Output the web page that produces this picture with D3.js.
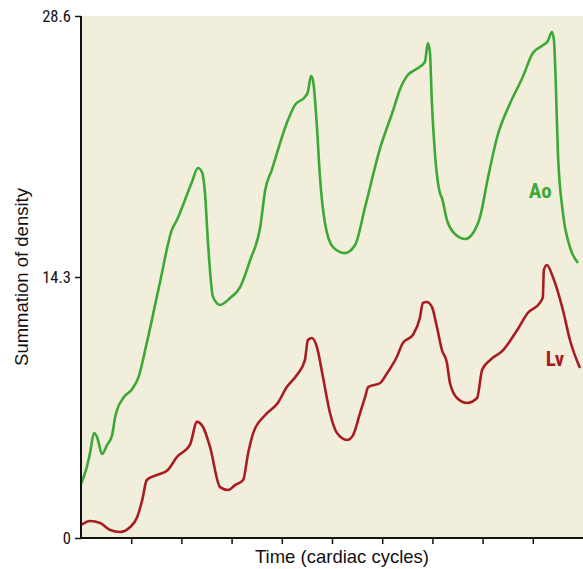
<!DOCTYPE html>
<html><head><meta charset="utf-8">
<script src="https://cdn.jsdelivr.net/npm/d3@7"></script>
<style>
body{margin:0;background:#fff;}
svg{display:block;}
</style></head>
<body>
<svg id="chart" width="583" height="569"></svg>
<script>
// Time in cardiac-cycle units (0..10), values = summation of density
const aoTime = [0,0.10,0.18,0.26,0.32,0.42,0.52,0.62,0.68,0.84,1.02,1.14,1.31,1.57,1.81,1.91,2.21,2.33,2.41,2.47,2.53,2.63,2.77,2.97,3.17,3.37,3.57,3.67,3.80,4.10,4.26,4.46,4.52,4.58,4.62,4.70,4.76,4.86,5.02,5.26,5.46,5.66,5.96,6.22,6.35,6.51,6.65,6.85,6.91,6.95,6.99,7.05,7.15,7.19,7.29,7.41,7.65,7.81,7.95,8.11,8.29,8.55,8.80,9.00,9.18,9.30,9.38,9.42,9.46,9.50,9.60,9.74,9.90];
const aoValues = [2.96,3.73,4.66,5.75,5.53,4.60,5.10,5.64,6.63,7.67,8.16,8.77,10.68,13.97,16.88,17.42,19.51,20.27,20.05,18.90,16.16,13.20,12.77,13.15,13.75,15.23,17.04,19.07,20.16,22.74,23.72,24.16,24.44,25.31,25.09,22.52,19.78,17.26,15.94,15.61,16.05,18.14,21.37,23.45,24.55,25.37,25.64,26.08,27.12,26.63,23.83,21.09,18.90,18.63,17.42,16.77,16.38,16.71,17.59,19.78,21.97,23.83,25.26,26.57,26.96,27.23,27.72,27.29,24.71,21.09,17.81,15.94,15.07];
const lvTime = [0,0.18,0.38,0.58,0.78,0.98,1.12,1.22,1.31,1.51,1.73,1.91,2.17,2.31,2.43,2.57,2.77,2.93,3.07,3.23,3.33,3.43,3.67,3.92,4.10,4.30,4.46,4.52,4.60,4.70,4.82,4.96,5.10,5.30,5.42,5.56,5.66,5.72,5.96,6.10,6.29,6.41,6.61,6.75,6.81,6.89,6.99,7.09,7.19,7.29,7.35,7.49,7.69,7.89,7.99,8.15,8.41,8.69,8.90,9.14,9.20,9.22,9.28,9.40,9.60,9.74,9.94];
const lvValues = [0.71,0.93,0.82,0.44,0.33,0.60,1.15,2.08,3.18,3.45,3.73,4.44,5.10,6.36,6.08,4.99,2.79,2.63,2.90,3.18,4.66,5.75,6.74,7.40,8.27,8.93,9.75,10.85,10.96,10.46,8.82,6.85,5.75,5.37,5.64,6.85,7.73,8.27,8.49,9.04,9.92,10.68,11.12,12.05,12.88,12.93,12.66,11.56,10.30,9.59,8.49,7.67,7.40,7.67,9.20,9.75,10.30,11.40,12.33,12.88,13.20,14.68,14.96,14.30,12.49,10.85,9.31];
const yTickValues = [0, 14.3, 28.6];
const xTickValues = [1,2,3,4,5,6,7,8,9];
const seriesLabels = ["Ao","Lv"];

const margin = {left:81, top:16, right:0, bottom:31};
const W = 583, H = 569;
const iw = W - margin.left - margin.right, ih = H - margin.top - margin.bottom;
const svg = d3.select("#chart");
const g = svg.append("g").attr("transform",`translate(${margin.left},${margin.top})`);
const x = d3.scaleLinear().domain([0,10]).range([0,iw]);
const y = d3.scaleLinear().domain([0,28.6]).range([ih,0]);

g.append("rect").attr("width",iw).attr("height",ih).attr("fill","#f2eedc");

const line = d3.line().x(d=>x(d[0])).y(d=>y(d[1])).curve(d3.curveMonotoneX);
const ao = aoTime.map((t,i)=>[t,aoValues[i]]);
const lv = lvTime.map((t,i)=>[t,lvValues[i]]);
g.append("path").datum(ao).attr("d",line).attr("fill","none").attr("stroke","#3ca836").attr("stroke-width",2.6).attr("stroke-linejoin","round");
g.append("path").datum(lv).attr("d",line).attr("fill","none").attr("stroke","#a81d22").attr("stroke-width",2.6).attr("stroke-linejoin","round");

const condensed = "'Liberation Sans Narrow','Arial Narrow','Roboto Condensed',sans-serif";
// Y axis
const ya = g.append("g").call(d3.axisLeft(y).tickValues(yTickValues).tickSize(6).tickPadding(4).tickFormat(d=>d===0?"0":d3.format(".1f")(d)));
ya.select(".domain").attr("stroke","#111").attr("stroke-width",2).attr("d",`M0,${ih+1}V0`);
ya.selectAll(".tick line").attr("stroke","#111").attr("stroke-width",1.5);
ya.selectAll(".tick text").attr("font-family",condensed).attr("font-size",16.5).attr("fill","#111");
// X axis
const xa = g.append("g").attr("transform",`translate(0,${ih})`).call(d3.axisBottom(x).tickValues(xTickValues).tickSize(6).tickFormat(""));
xa.select(".domain").attr("stroke","#111").attr("stroke-width",2).attr("d",`M-1,0H${iw}`);
xa.selectAll(".tick line").attr("stroke","#111").attr("stroke-width",1.5);

// Axis titles
svg.append("text").attr("x",342).attr("y",563).attr("text-anchor","middle")
  .attr("font-family","'Liberation Sans',Arial,sans-serif").attr("font-size",18.5).attr("fill","#111").text("Time (cardiac cycles)");
svg.append("text").attr("transform","translate(28,277) rotate(-90)").attr("text-anchor","middle")
  .attr("font-family","'Liberation Sans',Arial,sans-serif").attr("font-size",18.5).attr("fill","#111").text("Summation of density");

// Series labels
g.append("text").attr("x",x(8.92)).attr("y",y(18.63)).attr("font-family",condensed).attr("font-weight","bold")
  .attr("font-size",21).attr("fill","#3ca836").text(seriesLabels[0]);
g.append("text").attr("x",x(9.26)).attr("y",y(9.42)).attr("font-family",condensed).attr("font-weight","bold")
  .attr("font-size",21).attr("fill","#a81d22").text(seriesLabels[1]);
</script>
</body></html>
